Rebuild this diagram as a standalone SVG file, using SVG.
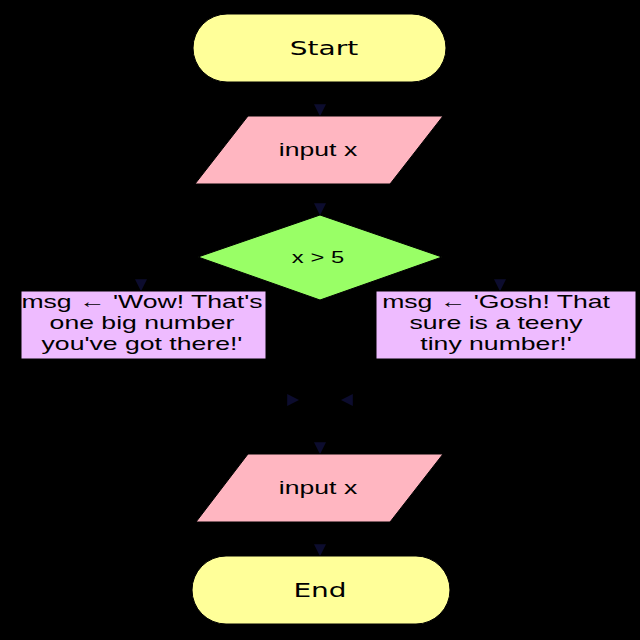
<svg xmlns="http://www.w3.org/2000/svg" width="640" height="640" viewBox="0 0 640 640">
<style>
.term{fill:#ffff99;stroke:#000;stroke-width:1}
.io{fill:#ffb6c1;stroke:#000;stroke-width:1}
.dec{fill:#99ff66;stroke:#000;stroke-width:1}
.proc{fill:#eebbff;stroke:#000;stroke-width:1}
.t1{font-family:"DejaVu Sans",sans-serif;font-size:20px;text-anchor:middle;fill:#000}
.t2{font-family:"Liberation Sans",Arial,sans-serif;font-size:19px;text-anchor:middle;fill:#000}
.conn{fill:none;stroke:#000;stroke-width:2}
</style>
<defs>
<marker id="ah" viewBox="0 0 10 10" refX="9" refY="5" markerWidth="6" markerHeight="6" orient="auto" markerUnits="strokeWidth">
<path d="M0,0 L10,5 L0,10 z" fill="#0c0c2e"/>
</marker>
</defs>
<rect x="0" y="0" width="640" height="640" fill="#000"/>
<g id="connectors">
<path class="conn" d="M320,82 V115" marker-end="url(#ah)"/>
<path class="conn" d="M320,184 V214" marker-end="url(#ah)"/>
<path class="conn" d="M198,257 H141 V290" marker-end="url(#ah)"/>
<path class="conn" d="M442,257 H500 V290" marker-end="url(#ah)"/>
<path class="conn" d="M141,359 V400 H298" marker-end="url(#ah)"/>
<path class="conn" d="M500,359 V400 H342" marker-end="url(#ah)"/>
<path class="conn" d="M320,400 V453" marker-end="url(#ah)"/>
<path class="conn" d="M320,522 V555" marker-end="url(#ah)"/>
</g>
<g id="start">
<rect class="term" x="193" y="14" width="253" height="68" rx="34" ry="34"/>
<text class="t1" transform="translate(324,55) scale(1.4,1)">Start</text>
</g>
<g id="input1">
<polygon class="io" points="248,116 443,116 390,184 195,184"/>
<text class="t2" transform="translate(318,156) scale(1.4,1)">input x</text>
</g>
<g id="decision">
<polygon class="dec" points="320,215 442,257 320,300 198,257"/>
<text class="t2" transform="translate(318,263) scale(1.4,1)" style="font-size:17px">x &gt; 5</text>
</g>
<g id="yesbox">
<rect class="proc" x="21" y="291" width="245" height="68"/>
<g transform="translate(142,0) scale(1.4,1)">
<text class="t2" x="0" y="308">msg ← 'Wow! That's</text>
<text class="t2" x="0" y="329">one big number</text>
<text class="t2" x="0" y="350">you've got there!'</text>
</g>
</g>
<g id="nobox">
<rect class="proc" x="376" y="291" width="260" height="68"/>
<g transform="translate(496,0) scale(1.4,1)">
<text class="t2" x="0" y="308">msg ← 'Gosh! That</text>
<text class="t2" x="0" y="329">sure is a teeny</text>
<text class="t2" x="0" y="350">tiny number!'</text>
</g>
</g>
<g id="input2">
<polygon class="io" points="248,454 443,454 390,522 196,522"/>
<text class="t2" transform="translate(318,494) scale(1.4,1)">input x</text>
</g>
<g id="end">
<rect class="term" x="192" y="556" width="258" height="68" rx="34" ry="34"/>
<text class="t1" transform="translate(320,597) scale(1.4,1)">End</text>
</g>
</svg>
